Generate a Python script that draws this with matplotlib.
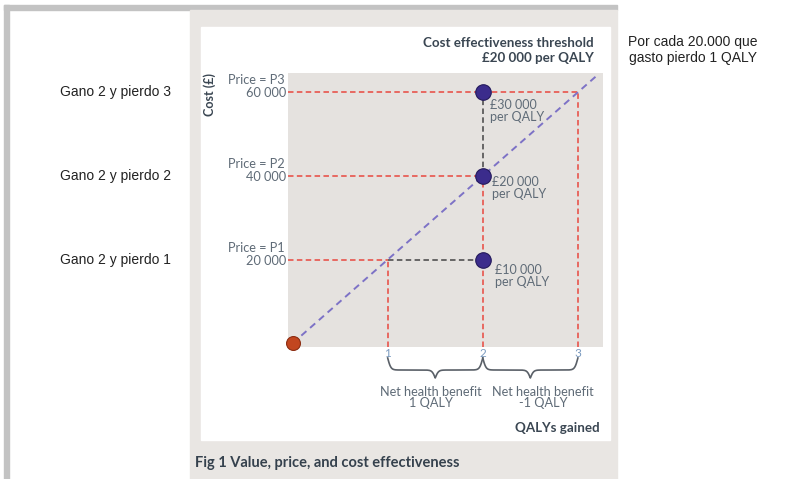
import matplotlib.pyplot as plt
import matplotlib.patches as mpatches
import matplotlib.transforms as mtransforms
import numpy as np

# chart values
qalys = [1, 2, 3]
gained = 2
threshold = 20000
prices = [20000, 40000, 60000]
price_names = ['Price = P1', 'Price = P2', 'Price = P3']
icer_labels = ['£10 000\nper QALY', '£20 000\nper QALY', '£30 000\nper QALY']
net_benefit = ['Net health benefit\n1 QALY', 'Net health benefit\n-1 QALY']
notes_left = ['Gano 2 y pierdo 1', 'Gano 2 y pierdo 2', 'Gano 2 y pierdo 3']
note_right = 'Por cada 20.000 que\ngasto pierdo 1 QALY'

W, H = 789, 479
def fx(px): return px / W
def fy(py): return 1 - py / H

FONT = 'Lato'
DARK = '#3a4652'
MID = '#5f6b77'
RED = '#e8483f'
PURPLE = '#7d72c6'
DOT = '#3b2c8c'

fig = plt.figure(figsize=(7.89, 4.79), dpi=100)

# page decoration
for x, y, w, h, c in [(4, 5, 5, 474, '#c3c3c3'), (4, 5, 613, 5, '#c3c3c3'),
                      (190, 10, 427, 469, '#e9e6e3'), (201, 27, 409, 413, 'white')]:
    fig.patches.append(mpatches.Rectangle((fx(x), fy(y + h)), w / W, h / H,
                                          transform=fig.transFigure, color=c,
                                          zorder=-10))

ax = fig.add_axes([fx(288), fy(347), (603 - 288) / W, (347 - 73) / H])
ax.set_facecolor('#e5e2df')
ax.set_xlim(-0.048, 3.264)
ax.set_ylim(-880, 64600)
for s in ax.spines.values():
    s.set_visible(False)

x0, y0 = ax.get_xlim()[0], ax.get_ylim()[0]
dash = dict(lw=1.1, dashes=(3.6, 2.2))

# red guide lines
for p in prices:
    q = p / threshold
    ax.plot([x0, q], [p, p], color=RED, **dash)
    ax.plot([q, q], [y0, p], color=RED, **dash)

# black links to the product point
for p in prices:
    q = p / threshold
    if q < gained:
        ax.plot([q, gained], [p, p], color='#444444', **dash)
    elif q > gained:
        ax.plot([gained, gained], [gained * threshold, p], color='#444444', **dash)

# threshold line
tx = np.array([0, 3.2])
ax.plot(tx, tx * threshold, color=PURPLE, lw=1.4, dashes=(3.5, 2.5))

ax.plot([0], [0], 'o', ms=10, color='#c2461f', mec='#8c2d12', mew=0.8,
        clip_on=False, zorder=6)
ax.scatter([gained] * len(prices), prices, s=125, color=DOT, edgecolor='#241a5c',
           linewidth=0.8, zorder=6, clip_on=False)

offsets = [(8.5, -11.5), (6.5, -9), (5, -13.3)]
for p, lab, off in zip(prices, icer_labels, offsets):
    ax.annotate(lab, (gained, p), xytext=off, textcoords='offset points',
                ha='left', va='center', fontsize=9, color=MID, family=FONT,
                linespacing=1.0)

# axes ticks
ax.set_xticks(qalys)
ax.set_xticklabels([str(q) for q in qalys], color='#7b9bc0', fontsize=8.5,
                   family=FONT)
ax.set_yticks(prices)
ax.set_yticklabels([f'{p:,}'.replace(',', ' ') for p in prices], color=MID,
                   fontsize=9.2, family=FONT)
ax.tick_params(length=0, pad=1.5)
ax.tick_params(axis='x', pad=0.5)
ytr = ax.get_yaxis_transform()
for p, name in zip(prices, price_names):
    ax.annotate(name, (0, p), xycoords=ytr, xytext=(-2.2, 8.5),
                textcoords='offset points', ha='right', va='center',
                fontsize=9.2, color=MID, family=FONT, annotation_clip=False)

# braces under the x axis
btr = mtransforms.blended_transform_factory(ax.transData, ax.transAxes)
def brace(a, b, top=-0.040, p=0.044, q=0.029, beta=60):
    half = (b - a) / 2
    t = np.linspace(0, half, 120)
    s1 = 1 / (1 + np.exp(-beta * t))
    s2 = 1 / (1 + np.exp(-beta * (t - half)))
    y = top - p * (s1 - 0.5) * 2 - q * s2 * 2
    xs = np.concatenate([a + t, b - t[::-1]])
    ys = np.concatenate([y, y[::-1]])
    ax.plot(xs, ys, color='#5a6068', lw=1.2, transform=btr, clip_on=False)

text_shift = [-3, 9]
for (a, b), lab, sh in zip(zip(qalys[:-1], qalys[1:]), net_benefit, text_shift):
    brace(a, b)
    ax.annotate(lab, ((a + b) / 2, -0.186), xycoords=btr, xytext=(sh, 0),
                textcoords='offset points', ha='center', va='center',
                fontsize=9.2, color=MID, family=FONT, linespacing=0.9,
                annotation_clip=False)

# figure text
fig.text(fx(210), fy(95), 'Cost (£)', rotation=90, ha='center', va='center',
         fontsize=9, weight='bold', color=DARK, family=FONT)
fig.text(fx(594), fy(43), 'Cost effectiveness threshold', ha='right',
         va='center', fontsize=9.6, weight='bold', color=DARK, family=FONT)
fig.text(fx(594), fy(58), '£20 000 per QALY', ha='right', va='center',
         fontsize=9.6, weight='bold', color=DARK, family=FONT)
fig.text(fx(600), fy(428), 'QALYs gained', ha='right', va='center',
         fontsize=9.6, weight='bold', color=DARK, family=FONT)
fig.text(fx(195), fy(463), 'Fig 1 Value, price, and cost effectiveness',
         ha='left', va='center', fontsize=10.5, weight='bold', color='#35414d',
         family=FONT)

# notes in Spanish
lt = mtransforms.blended_transform_factory(fig.transFigure, ax.transData)
for p, note in zip(prices, notes_left):
    fig.text(fx(60), p, note, transform=lt, ha='left', va='center',
             fontsize=10, color='#222222', family='Liberation Sans')
fig.text(fx(693), fy(50), note_right, ha='center', va='center', fontsize=10,
         color='#222222', family='Liberation Sans', linespacing=1.15)

fig.savefig('out.png', dpi=100)
